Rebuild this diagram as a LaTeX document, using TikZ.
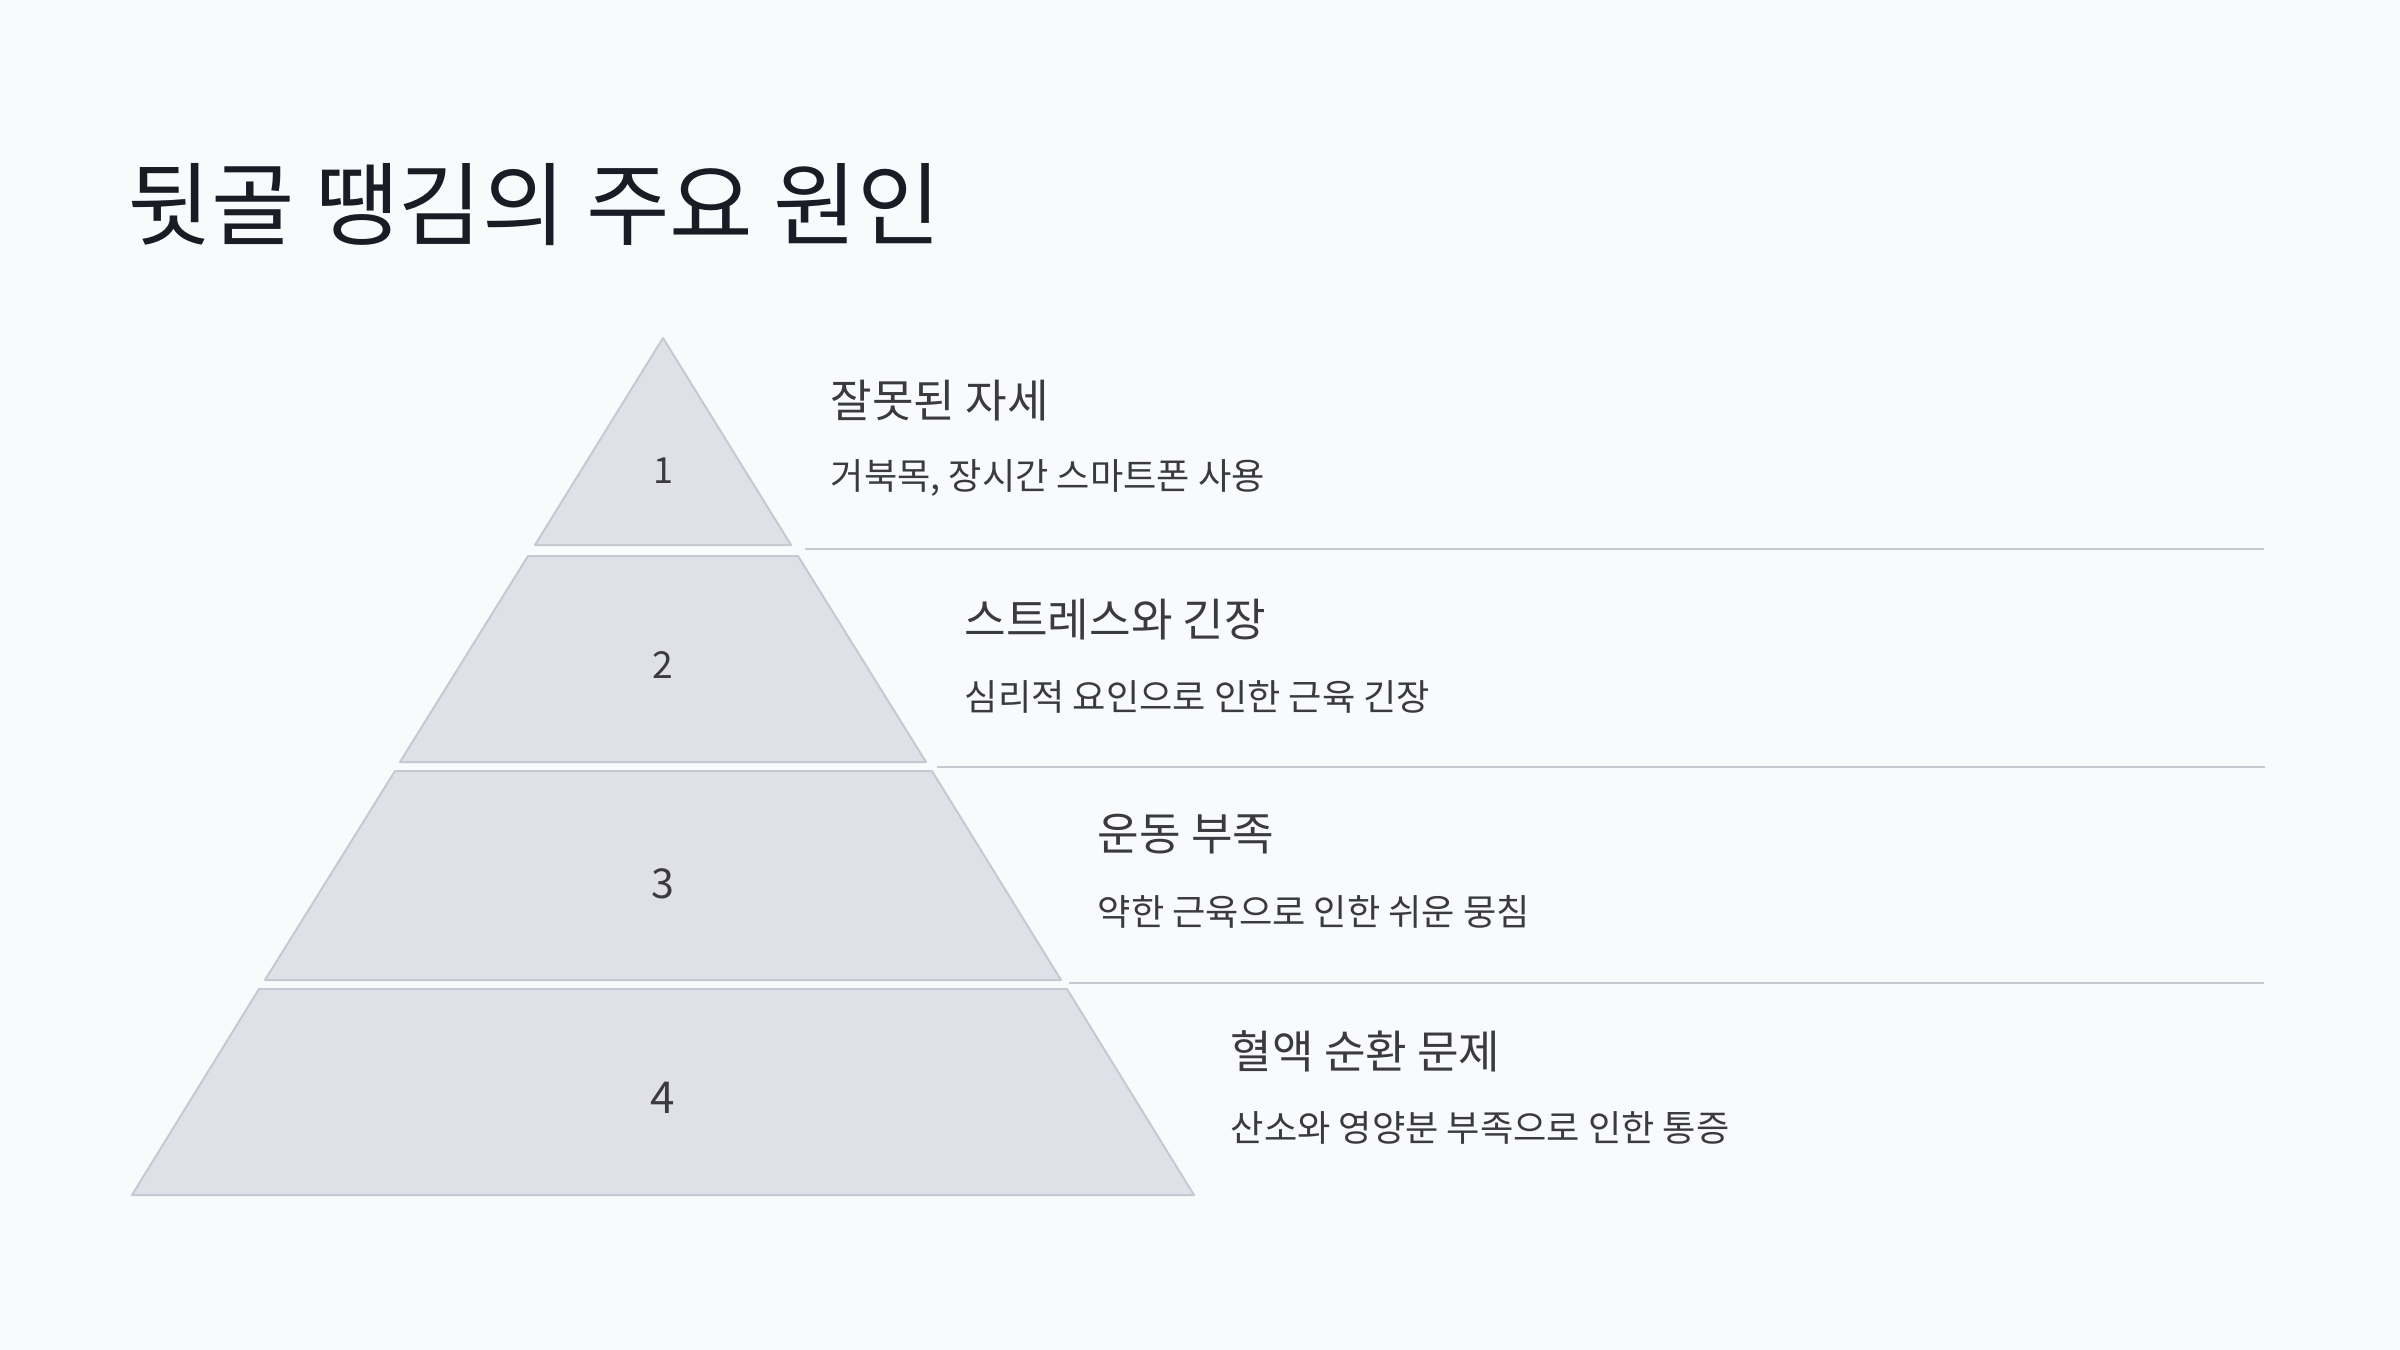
\documentclass[tikz,border=0pt]{standalone}
\usepackage{fontspec}
\setmainfont{Noto Sans CJK KR}
\definecolor{bgc}{HTML}{F9FAFC}
\definecolor{tierfill}{HTML}{E0E1E8}
\definecolor{tierline}{HTML}{C8C8D2}
\definecolor{titlec}{HTML}{1B1B26}
\definecolor{textc}{HTML}{3A3A40}
\tikzset{
  tier/.style={fill=tierfill, draw=tierline, line width=0.5pt, line join=round},
  sepline/.style={draw=tierline, line width=0.6pt},
  numlabel/.style={text=textc, inner sep=0pt, font=\fontsize{#1}{#1}\selectfont},
  headtext/.style={text=textc, anchor=west, inner sep=0pt, font=\fontsize{11.3pt}{13pt}\selectfont},
  subtext/.style={text=textc, anchor=west, inner sep=0pt, font=\fontsize{9.05pt}{11pt}\selectfont},
}
\begin{document}
\begin{tikzpicture}[x=0.25pt,y=-0.25pt]
\useasboundingbox (0,0) rectangle (2400,1350);
\fill[bgc] (0,0) rectangle (2400,1350);

\node[anchor=west, inner sep=0pt, text=titlec, font=\fontsize{22.7pt}{27pt}\selectfont] (title) at (127,205) {뒷골 땡김의 주요 원인};

% tiers
\draw[tier] (663,338) -- (791,545) -- (535,545) -- cycle;
\draw[tier] (528,556) -- (798,556) -- (926,762) -- (400,762) -- cycle;
\draw[tier] (395,771) -- (932,771) -- (1061,980) -- (265,980) -- cycle;
\draw[tier] (259,989) -- (1067,989) -- (1194,1195) -- (132,1195) -- cycle;

\node[numlabel=9pt] (n1) at (663,471) {1};
\node[numlabel=9.3pt] (n2) at (663,665) {2};
\node[numlabel=10.3pt] (n3) at (663,884) {3};
\node[numlabel=11pt] (n4) at (663,1098) {4};

% separators
\coordinate (s1a) at (805,549); \coordinate (s1b) at (2264,549);
\coordinate (s2a) at (937,767); \coordinate (s2b) at (2265,767);
\coordinate (s3a) at (1069,983); \coordinate (s3b) at (2264,983);
\draw[sepline] (s1a) -- (s1b);
\draw[sepline] (s2a) -- (s2b);
\draw[sepline] (s3a) -- (s3b);

% texts
\node[headtext] (h1) at (830,401) {잘못된 자세};
\node[subtext] (d1) at (830,478) {거북목, 장시간 스마트폰 사용};
\node[headtext] (h2) at (964,620) {스트레스와 긴장};
\node[subtext] (d2) at (964,697) {심리적 요인으로 인한 근육 긴장};
\node[headtext] (h3) at (1097,834) {운동 부족};
\node[subtext] (d3) at (1097,912) {약한 근육으로 인한 쉬운 뭉침};
\node[headtext] (h4) at (1230,1051) {혈액 순환 문제};
\node[subtext] (d4) at (1230,1128) {산소와 영양분 부족으로 인한 통증};
\end{tikzpicture}
\end{document}
